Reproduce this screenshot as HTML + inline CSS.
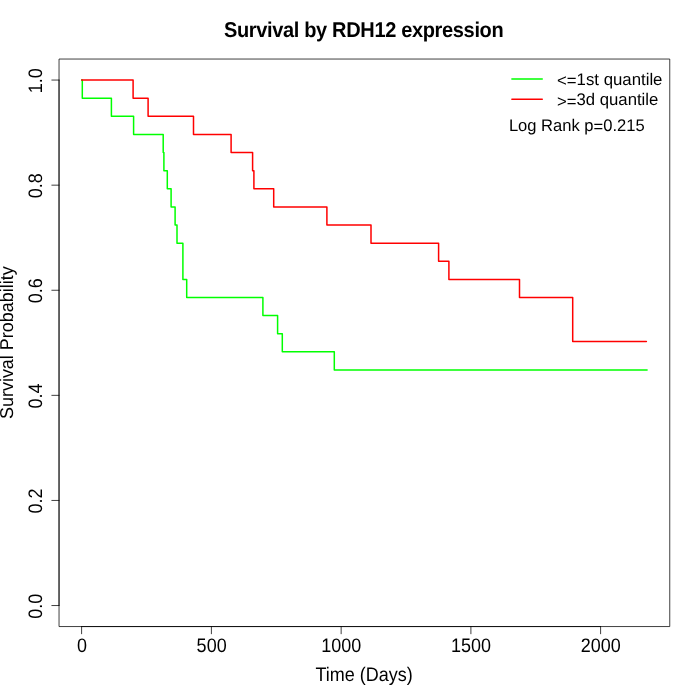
<!DOCTYPE html>
<html lang="en">
<head>
<meta charset="utf-8">
<title>Survival by RDH12 expression</title>
<style>
html,body{margin:0;padding:0;background:#fff;}
body{width:700px;height:700px;overflow:hidden;}
svg{display:block;}
text{font-family:"Liberation Sans",Arial,Helvetica,sans-serif;fill:#000;text-rendering:geometricPrecision;}
</style>
</head>
<body>
<svg width="700" height="700" viewBox="0 0 700 700">
<rect width="700" height="700" fill="#ffffff"/>
<path d="M81.66,80.06H82.30V98.18H111.40V116.30H133.60V134.42H163.20V152.54H163.90V170.66H167.30V188.78H171.10V206.90H175.10V225.02H177.00V243.14H182.90V279.38H186.70V297.50H262.90V315.62H277.60V333.74H282.30V351.86H334.30V369.98H647.10" fill="none" stroke="#00ff00" stroke-width="1.5" stroke-linecap="round" stroke-linejoin="round"/>
<path d="M81.66,80.06H133.10V98.18H148.10V116.30H193.50V134.42H231.10V152.54H252.60V170.66H253.90V188.78H273.70V206.90H326.90V225.02H371.00V243.14H438.60V261.26H448.90V279.38H519.50V297.50H572.70V341.40H646.40" fill="none" stroke="#ff0000" stroke-width="1.5" stroke-linecap="round" stroke-linejoin="round"/>
<path d="M81.60,626.56H600.60M81.60,626.56v7.2M211.40,626.56v7.2M341.15,626.56v7.2M470.90,626.56v7.2M600.60,626.56v7.2M59.04,605.54V80.06M59.04,605.54h-7.2M59.04,500.44h-7.2M59.04,395.35h-7.2M59.04,290.25h-7.2M59.04,185.16h-7.2M59.04,80.06h-7.2" fill="none" stroke="#000" stroke-width="0.75" stroke-linecap="round"/>
<rect x="59.04" y="59.04" width="610.72" height="567.52" fill="none" stroke="#000" stroke-width="0.75" stroke-linejoin="round"/>
<text transform="translate(81.96,652.00) scale(1,1.085)" text-anchor="middle" font-size="18">0</text>
<text transform="translate(211.63,652.00) scale(1,1.085)" text-anchor="middle" font-size="18">500</text>
<text transform="translate(341.30,652.00) scale(1,1.085)" text-anchor="middle" font-size="18">1000</text>
<text transform="translate(470.98,652.00) scale(1,1.085)" text-anchor="middle" font-size="18">1500</text>
<text transform="translate(600.65,652.00) scale(1,1.085)" text-anchor="middle" font-size="18">2000</text>
<text transform="translate(41.50,606.14) rotate(-90) scale(1,1.085)" text-anchor="middle" font-size="18">0.0</text>
<text transform="translate(41.50,501.04) rotate(-90) scale(1,1.085)" text-anchor="middle" font-size="18">0.2</text>
<text transform="translate(41.50,395.95) rotate(-90) scale(1,1.085)" text-anchor="middle" font-size="18">0.4</text>
<text transform="translate(41.50,290.85) rotate(-90) scale(1,1.085)" text-anchor="middle" font-size="18">0.6</text>
<text transform="translate(41.50,185.76) rotate(-90) scale(1,1.085)" text-anchor="middle" font-size="18">0.8</text>
<text transform="translate(41.50,80.66) rotate(-90) scale(1,1.085)" text-anchor="middle" font-size="18">1.0</text>
<text transform="translate(363.65,36.85) scale(1,1.07)" text-anchor="middle" font-size="20" font-weight="bold" letter-spacing="-0.345">Survival by RDH12 expression</text>
<text transform="translate(364.20,681.00) scale(1,1.085)" text-anchor="middle" font-size="18">Time (Days)</text>
<text transform="translate(12.90,342.70) rotate(-90) scale(0.997,1.03)" text-anchor="middle" font-size="18">Survival Probability</text>
<path d="M511.9,79H542.25" stroke="#00ff00" stroke-width="1.5" stroke-linecap="round" fill="none"/>
<path d="M511.9,99.25H542.25" stroke="#ff0000" stroke-width="1.5" stroke-linecap="round" fill="none"/>
<text transform="translate(557.00,84.50) scale(1.0,1)" font-size="16.8"><tspan dy="1.6">&lt;=</tspan><tspan dy="-1.6">1st quantile</tspan></text>
<text transform="translate(557.00,105.00) scale(0.996,1)" font-size="16.8"><tspan dy="1.6">&gt;=</tspan><tspan dy="-1.6">3d quantile</tspan></text>
<text transform="translate(508.90,130.80) scale(0.986,1)" font-size="16.8">Log Rank p<tspan dy="1.4">=</tspan><tspan dy="-1.4">0.215</tspan></text>
</svg>
</body>
</html>
